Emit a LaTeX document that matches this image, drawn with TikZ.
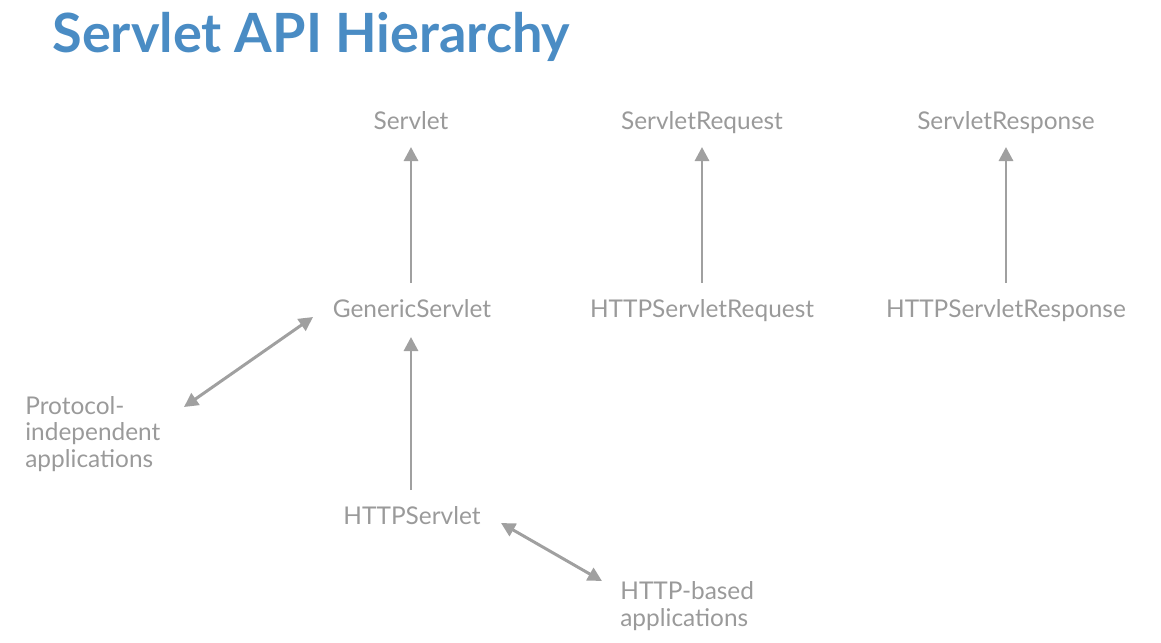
\documentclass[tikz,border=0pt]{standalone}
\usepackage{fontspec}
\setmainfont{Lato}
\usetikzlibrary{arrows.meta}
\definecolor{titleblue}{HTML}{4A8CC4}
\definecolor{txtgray}{HTML}{9A9A9A}
\definecolor{arrgray}{HTML}{A0A0A0}
\begin{document}
\begin{tikzpicture}[x=0.02cm,y=-0.02cm,
  lbl/.style={text=txtgray,font=\fontsize{13.9}{16.5}\selectfont,inner sep=0pt,text height=0.72em,text depth=0.22em},
  multi/.style={text=txtgray,inner sep=0pt,align=left,font=\fontsize{13.9}{15.1}\selectfont},
  conn/.style={draw=arrgray,line width=1.7pt,-{Triangle[length=8pt,width=8pt]}},
  dconn/.style={draw=arrgray,line width=1.7pt,{Triangle[length=8pt,width=8pt]}-{Triangle[length=8pt,width=8pt]}}]
\useasboundingbox (0,0) rectangle (1161,643);
\node[anchor=base west,inner sep=0pt,text=titleblue,font=\fontsize{30.8}{36}\selectfont\bfseries] (title) at (52,52) {Servlet API Hierarchy};
\node[lbl] (servlet) at (411,125) {Servlet};
\node[lbl] (sreq) at (702,125) {ServletRequest};
\node[lbl] (sresp) at (1006,125) {ServletResponse};
\node[lbl] (generic) at (412,313) {GenericServlet};
\node[lbl] (hreq) at (702,313) {HTTPServletRequest};
\node[lbl] (hresp) at (1006,313) {HTTPServletResponse};
\node[lbl] (http) at (412,520) {HTTPServlet};
\node[multi,anchor=west] (proto) at (25,434) {Protocol-\\independent\\applications};
\node[multi,anchor=west] (httpapp) at (620,606) {HTTP-based\\applications};
\coordinate (g1) at (411,283); \coordinate (s1) at (411,147);
\coordinate (g2) at (702,283); \coordinate (s2) at (702,147);
\coordinate (g3) at (1006,283); \coordinate (s3) at (1006,147);
\coordinate (h1) at (411,490); \coordinate (gb) at (411,337);
\coordinate (pa) at (184,407); \coordinate (pb) at (313,317);
\coordinate (ha) at (501,523); \coordinate (hb) at (602,581);
\draw[conn] (g1) -- (s1);
\draw[conn] (g2) -- (s2);
\draw[conn] (g3) -- (s3);
\draw[conn] (h1) -- (gb);
\draw[dconn] (pa) -- (pb);
\draw[dconn] (ha) -- (hb);
\end{tikzpicture}
\end{document}
